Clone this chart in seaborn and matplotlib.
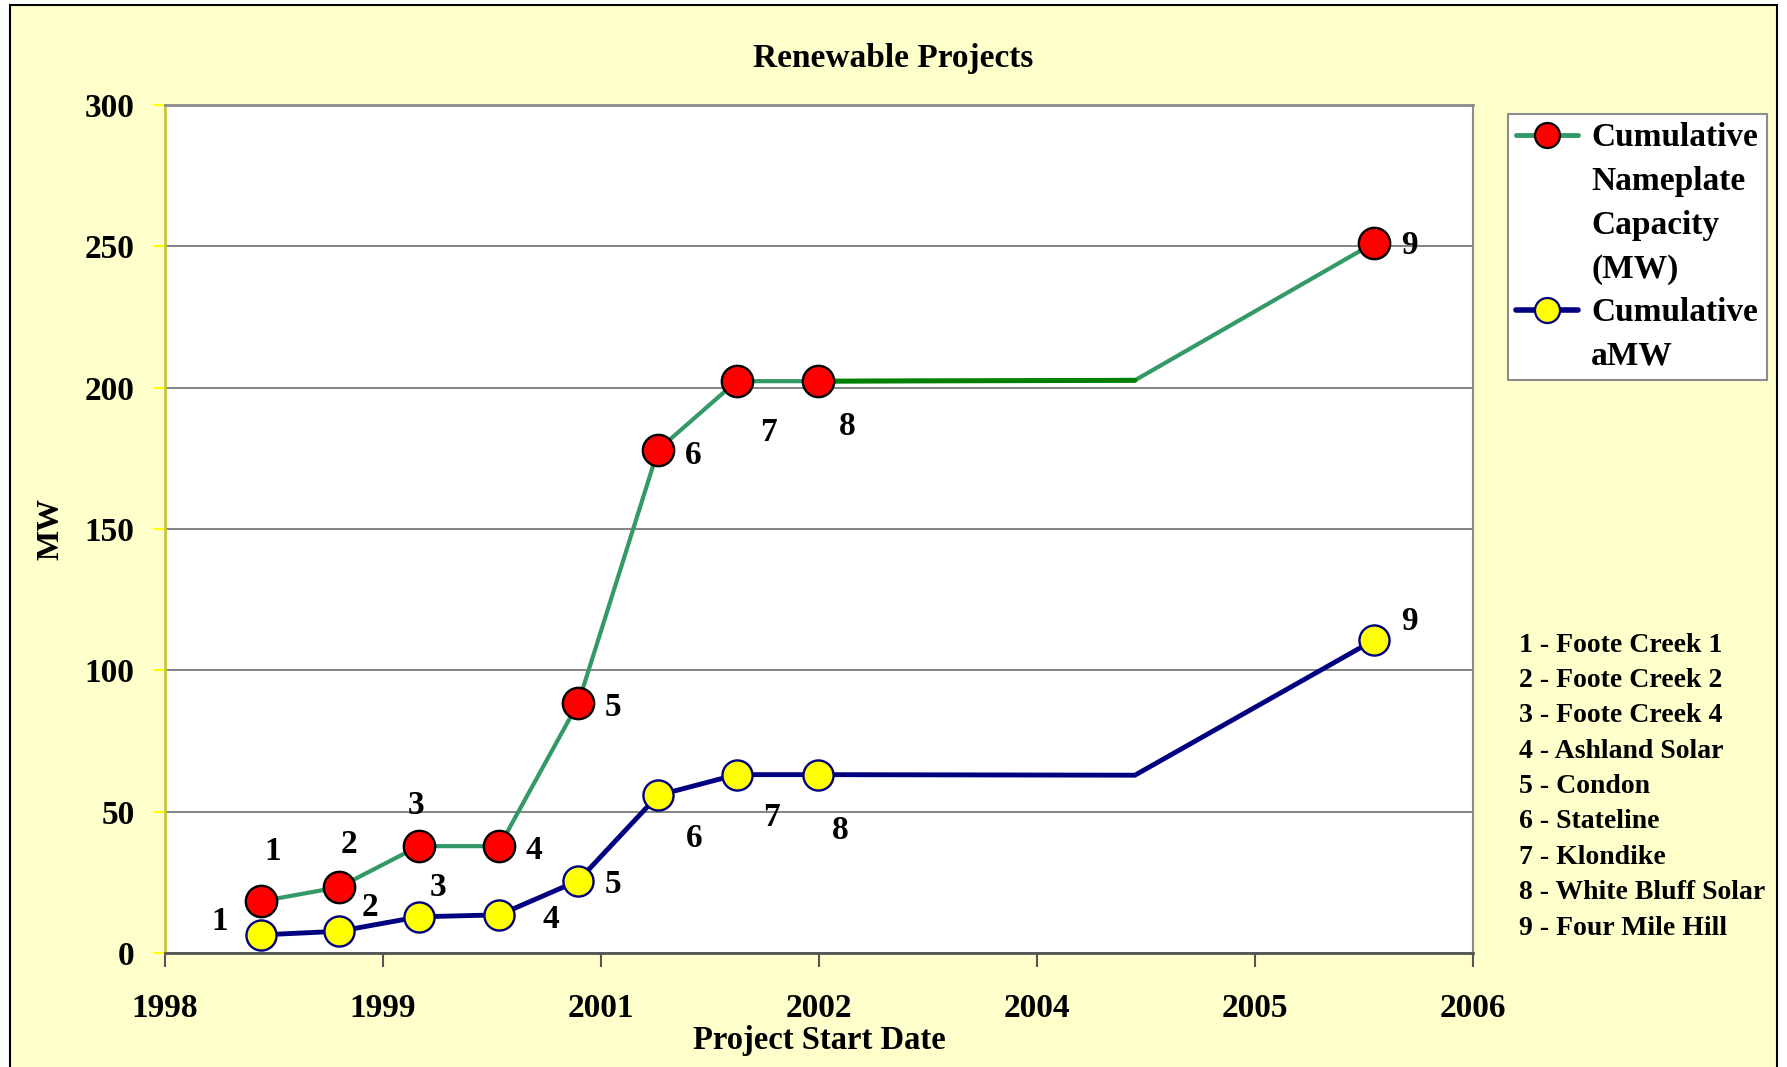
"""
Renewable Projects - cumulative MW by project start date
"""

import matplotlib
matplotlib.use("Agg")
import matplotlib.pyplot as plt
from matplotlib.lines import Line2D
from matplotlib.patches import Rectangle
import seaborn as sns

# Data (x is position on the date axis, in tick steps from the first tick)
x_pos = [0.441, 0.799, 1.164, 1.534, 1.896, 2.262, 2.622, 2.995, 4.449, 5.548]
nameplate = [18.3, 23.3, 37.8, 37.8, 88.5, 178.0, 202.3, 202.3, 202.6, 251.3]
amw = [6.4, 7.7, 12.8, 13.5, 25.6, 55.8, 63.1, 63.1, 62.9, 110.8]
point_labels = ["1", "2", "3", "4", "5", "6", "7", "8", "", "9"]
x_ticklabels = ["1998", "1999", "2001", "2002", "2004", "2005", "2006"]
y_ticks = [0, 50, 100, 150, 200, 250, 300]
projects = ["1 - Foote Creek 1", "2 - Foote Creek 2", "3 - Foote Creek 4",
            "4 - Ashland Solar", "5 - Condon", "6 - Stateline", "7 - Klondike",
            "8 - White Bluff Solar", "9 - Four Mile Hill"]

# label offsets in points (dx, dy) for each marker
red_offsets = [(8, 36), (7, 31), (-2, 29), (25, -3), (25, -3), (25, -4),
               (23, -37), (21, -33), None, (25, -2)]
yel_offsets = [(-30, 10), (22, 17), (14, 21), (37, -3), (25, -3), (26, -31),
               (25, -31), (16, -40), None, (25, 13)]

SERIF = "Liberation Serif"
GREEN = "#339966"
DARK_GREEN = "#008000"
NAVY = "#000080"

sns.set_theme(style="white")
plt.rcParams["font.family"] = [SERIF, "DejaVu Serif"]
plt.rcParams["font.weight"] = "bold"
plt.rcParams["text.color"] = "black"
plt.rcParams["axes.labelcolor"] = "black"
plt.rcParams["xtick.color"] = "black"
plt.rcParams["ytick.color"] = "black"

fig = plt.figure(figsize=(17.87, 10.67), dpi=100, facecolor="white")
fig.patches.append(Rectangle((10 / 1787, -0.01), 1767 / 1787, 1.01 - 5 / 1067,
                             transform=fig.transFigure, facecolor="#FFFFCC",
                             edgecolor="black", linewidth=1.5, zorder=-10))

ax = fig.add_axes([165 / 1787, 1 - 953 / 1067, 1308 / 1787, 848 / 1067])
ax.set_facecolor("white")

# lines
sns.lineplot(x=x_pos, y=nameplate, color=GREEN, lw=3, ax=ax, zorder=3)
sns.lineplot(x=x_pos[7:9], y=nameplate[7:9], color=DARK_GREEN, lw=3.6, ax=ax, zorder=3.1)
sns.lineplot(x=x_pos, y=amw, color=NAVY, lw=3.5, ax=ax, zorder=3)

# markers (skip the unlabelled break point)
idx = [i for i, lab in enumerate(point_labels) if lab]
sns.scatterplot(x=[x_pos[i] for i in idx], y=[nameplate[i] for i in idx], s=510,
                color="#FF0000", edgecolor="black", linewidth=1.7, ax=ax, zorder=4)
sns.scatterplot(x=[x_pos[i] for i in idx], y=[amw[i] for i in idx], s=470,
                color="#FFFF00", edgecolor=NAVY, linewidth=1.7, ax=ax, zorder=4)

for i in idx:
    ax.annotate(point_labels[i], (x_pos[i], nameplate[i]), xytext=red_offsets[i],
                textcoords="offset points", ha="center", va="center",
                fontsize=24, fontweight="bold", zorder=5)
    ax.annotate(point_labels[i], (x_pos[i], amw[i]), xytext=yel_offsets[i],
                textcoords="offset points", ha="center", va="center",
                fontsize=24, fontweight="bold", zorder=5)

# axes
ax.set_xlim(0, 6)
ax.set_ylim(0, 300)
ax.set_xticks(range(len(x_ticklabels)))
ax.set_xticklabels(x_ticklabels)
ax.set_yticks(y_ticks)
ax.yaxis.grid(True, color="#6e6e6e", linewidth=1.2)
ax.set_axisbelow(True)
ax.tick_params(axis="x", direction="out", length=10, width=1.5, color="#555555",
               labelcolor="black", pad=19, labelsize=24, bottom=True)
ax.tick_params(axis="y", direction="out", length=8, width=1.5, color="#FFFF00",
               labelcolor="black", pad=14, labelsize=24, left=True)
for lab in ax.get_xticklabels() + ax.get_yticklabels():
    lab.set_fontweight("bold")

ax.spines["left"].set_color("#C8C83C")
ax.spines["left"].set_linewidth(2)
ax.spines["bottom"].set_color("#555555")
ax.spines["bottom"].set_linewidth(2)
ax.spines["top"].set_color("#8c8c8c")
ax.spines["top"].set_linewidth(2)
ax.spines["right"].set_color("#8c8c8c")
ax.spines["right"].set_linewidth(1.5)

ax.set_ylabel("MW", fontsize=23, fontweight="bold")
ax.yaxis.label.set_va("center")
ax.yaxis.set_label_coords(-0.087, 0.5)
ax.set_xlabel("Project Start Date", fontsize=23.5, fontweight="bold")
ax.xaxis.set_label_coords(0.5, -0.103)
ax.xaxis.label.set_va("center")

fig.text(0.5, 1 - 58 / 1067, "Renewable Projects", ha="center", va="center",
         fontsize=24, fontweight="bold")

# legend: one row per text line, handle beside the first line of each entry
h_red = Line2D([], [], color=GREEN, lw=3.5, marker="o", markersize=18,
               markerfacecolor="#FF0000", markeredgecolor="black", markeredgewidth=1.6)
h_yel = Line2D([], [], color=NAVY, lw=4, marker="o", markersize=18,
               markerfacecolor="#FFFF00", markeredgecolor=NAVY, markeredgewidth=1.6)
blank = Line2D([], [], linestyle="none")
leg_lines = ["Cumulative", "Nameplate", "Capacity", "(MW)", "Cumulative", "aMW"]
leg_handles = [h_red, blank, blank, blank, h_yel, blank]
leg = ax.legend(leg_handles, leg_lines, loc="upper left",
                bbox_to_anchor=(1508 / 1787, 1 - 114 / 1067),
                bbox_transform=fig.transFigure, frameon=True, fancybox=False,
                framealpha=1, edgecolor="#8c8c8c", facecolor="white",
                prop={"family": SERIF, "weight": "bold", "size": 24},
                handlelength=1.85, handletextpad=0.4, labelspacing=0.38,
                borderpad=0.25, borderaxespad=0)
leg.get_frame().set_linewidth(1.5)

# project key
for k, name in enumerate(projects):
    fig.text(1519 / 1787, 1 - (645 + k * 35.4) / 1067, name, ha="left", va="center",
             fontsize=20, fontweight="bold")

fig.savefig("out.png", dpi=100, facecolor=fig.get_facecolor())
